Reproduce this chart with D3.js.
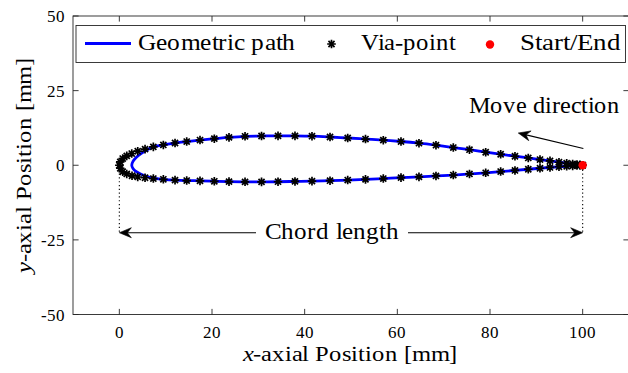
<!DOCTYPE html>
<html><head><meta charset="utf-8"><script src="https://cdn.jsdelivr.net/npm/d3@7"></script>
<style>
  @font-face { font-family: "ChartSerif"; src: local("Liberation Serif"), local("LiberationSerif-Regular"), local("LiberationSerif"); font-style: normal; }
  @font-face { font-family: "ChartSerif"; src: local("Liberation Serif Italic"), local("LiberationSerif-Italic"); font-style: italic; }
</style>
</head>
<body style="margin:0">
<svg id="s" width="628" height="373"></svg>
<script>
// Axis ticks
const xTicks = [0, 20, 40, 60, 80, 100];
const yTicks = [-50, -25, 0, 25, 50];

// Via-points, traced from the trailing edge over the upper surface to the nose,
// then back along the lower surface to the trailing edge [mm]
const viaX = [100, 99.42, 98.77, 97.84, 96.55, 94.89, 92.95, 90.79, 88.26, 85.39,
  82.30, 79.07, 75.57, 72.08, 68.34, 64.67, 60.79, 56.97, 53.13, 49.29,
  45.47, 41.58, 37.91, 34.25, 30.69, 27.13, 23.67, 20.50, 17.41, 14.54,
  12.02, 9.50, 7.34, 5.55, 3.97, 2.68, 1.60, 0.73, 0.20, 0,
  0.20, 0.73, 1.60, 2.74, 3.97, 5.55, 7.34, 9.50, 12.02, 14.54,
  17.41, 20.50, 23.67, 27.13, 30.69, 34.25, 37.91, 41.58, 45.47, 49.29,
  53.13, 56.97, 60.79, 64.67, 68.34, 72.08, 75.57, 79.07, 82.30, 85.39,
  88.26, 90.79, 92.95, 94.89, 96.55, 97.84, 98.77, 99.42, 100];
const viaY = [0, 0.17, 0.27, 0.44, 0.67, 1.01, 1.45, 1.91, 2.45, 3.02,
  3.69, 4.36, 5.20, 5.94, 6.71, 7.38, 7.95, 8.40, 8.78, 9.13,
  9.46, 9.73, 9.83, 9.85, 9.80, 9.70, 9.35, 8.90, 8.45, 7.95,
  7.45, 6.80, 6.14, 5.40, 4.70, 3.93, 3.13, 2.24, 1.10, 0,
  -1.00, -2.18, -2.92, -3.52, -3.93, -4.19, -4.46, -4.70, -4.97, -5.13,
  -5.22, -5.37, -5.47, -5.55, -5.58, -5.52, -5.42, -5.32, -5.18, -4.96,
  -4.72, -4.45, -4.15, -3.88, -3.58, -3.28, -2.92, -2.52, -2.11, -1.74,
  -1.34, -1.01, -0.74, -0.50, -0.34, -0.20, -0.10, -0.03, 0];

// Geometric path: follows the via-points but rounds the nose off inside them
const pathX = [100, 99.42, 98.77, 97.84, 96.55, 94.89, 92.95, 90.79, 88.26, 85.39,
  82.30, 79.07, 75.57, 72.08, 68.34, 64.67, 60.79, 56.97, 53.13, 49.29,
  45.47, 41.58, 37.91, 34.25, 30.69, 27.13, 23.67, 20.50, 17.41, 14.54,
  12.02, 9.50, 7.34, 5.18, 3.75, 2.95, 2.68, 2.95, 3.50, 4.47,
  6.00, 7.34, 9.50, 12.02, 14.54, 17.41, 20.50, 23.67, 27.13, 30.69,
  34.25, 37.91, 41.58, 45.47, 49.29, 53.13, 56.97, 60.79, 64.67, 68.34,
  72.08, 75.57, 79.07, 82.30, 85.39, 88.26, 90.79, 92.95, 94.89, 96.55,
  97.84, 98.77, 99.42, 100];
const pathY = [0, 0.17, 0.27, 0.44, 0.67, 1.01, 1.45, 1.91, 2.45, 3.02,
  3.69, 4.36, 5.20, 5.94, 6.71, 7.38, 7.95, 8.40, 8.78, 9.13,
  9.46, 9.73, 9.83, 9.85, 9.80, 9.70, 9.35, 8.90, 8.45, 7.95,
  7.45, 6.80, 6.14, 4.46, 2.79, 1.30, 0, -1.10, -2.00, -2.85,
  -3.80, -4.35, -4.70, -4.97, -5.13, -5.22, -5.37, -5.47, -5.55, -5.58,
  -5.52, -5.42, -5.32, -5.18, -4.96, -4.72, -4.45, -4.15, -3.88, -3.58,
  -3.28, -2.92, -2.52, -2.11, -1.74, -1.34, -1.01, -0.74, -0.50, -0.34,
  -0.20, -0.10, -0.03, 0];

// Start/End point
const startEnd = [100, 0];

// Annotations
const chordY = -22.6;           // height of the chord-length dimension line
const chordLabelX = 45.9;
const dropTop = -1.5;           // top of the dotted extension lines
const moveTail = [100.15, 5.6];
const moveHead = [86.1, 10.8];
const moveLabel = [91.7, 17.2];

const svg = d3.select("#s");
const F = '"ChartSerif", "Liberation Serif"';
const sx = d3.scaleLinear().domain([-10, 110]).range([73, 629]);
const sy = d3.scaleLinear().domain([-50, 50]).range([314.5, 16]);
const axisColor = "#262626";
const tickLen = 5.6;

// Text helper with the serif face
function label(px, py, size, str) {
  return svg.append("text")
    .attr("x", px).attr("y", py)
    .attr("font-size", size)
    .style("font-family", F)
    .text(str);
}

// Geometric path
const pathLine = d3.line()
  .x(d => sx(d[0])).y(d => sy(d[1]))
  .curve(d3.curveCatmullRom.alpha(0.5));
svg.append("path")
  .datum(pathX.map((v, i) => [v, pathY[i]]))
  .attr("d", pathLine)
  .attr("fill", "none")
  .attr("stroke", "#0000ff")
  .attr("stroke-width", 2.8)
  .attr("stroke-linejoin", "round");

// Asterisk marker
function asterisk(r) {
  const q = r * Math.SQRT1_2;
  return `M${-r},0L${r},0M0,${-r}L0,${r}M${-q},${-q}L${q},${q}M${-q},${q}L${q},${-q}`;
}
svg.append("g").selectAll("path")
  .data(viaX.map((v, i) => [v, viaY[i]]))
  .join("path")
  .attr("transform", d => `translate(${sx(d[0])},${sy(d[1])})`)
  .attr("d", asterisk(4.3))
  .attr("stroke", "#000")
  .attr("stroke-width", 1.7)
  .attr("fill", "none");

// Start/End dot
svg.append("circle")
  .attr("cx", sx(startEnd[0])).attr("cy", sy(startEnd[1]))
  .attr("r", 4.2).attr("fill", "#ff0000");

// Dotted extension lines at the leading and trailing edge
[0, 100].forEach(xv => {
  svg.append("line")
    .attr("x1", sx(xv)).attr("x2", sx(xv))
    .attr("y1", sy(dropTop)).attr("y2", sy(chordY))
    .attr("stroke", "#000").attr("stroke-width", 1.1)
    .attr("stroke-dasharray", "1.2,2.6");
});

// Arrowhead drawn at a tip, pointing along angle (radians)
function arrowHead(tx, ty, ang) {
  const L = 12, Wd = 10, N = 8;
  const pts = [[0, 0], [-L, Wd / 2], [-N, 0], [-L, -Wd / 2]];
  const c = Math.cos(ang), sn = Math.sin(ang);
  const p = pts.map(([a, b]) => [tx + a * c - b * sn, ty + a * sn + b * c]);
  svg.append("path")
    .attr("d", "M" + p.map(q => q.join(",")).join("L") + "Z")
    .attr("fill", "#000").attr("stroke", "#000").attr("stroke-width", 0.6);
}

// Chord length dimension
const chordPx = sy(chordY);
svg.append("line")
  .attr("x1", sx(0) + 4).attr("x2", sx(100) - 4)
  .attr("y1", chordPx).attr("y2", chordPx)
  .attr("stroke", "#000").attr("stroke-width", 1.1);
arrowHead(sx(0), chordPx, Math.PI);
arrowHead(sx(100), chordPx, 0);
svg.append("rect")
  .attr("x", sx(chordLabelX) - 76).attr("y", chordPx - 14)
  .attr("width", 152).attr("height", 26)
  .attr("fill", "#fff");
label(sx(chordLabelX), chordPx + 6.5, 22.5, "Chord length")
  .attr("text-anchor", "middle")
  .attr("textLength", 134).attr("lengthAdjust", "spacingAndGlyphs");

// Move direction arrow
const t0 = [sx(moveTail[0]), sy(moveTail[1])];
const t1 = [sx(moveHead[0]), sy(moveHead[1])];
const ang = Math.atan2(t1[1] - t0[1], t1[0] - t0[0]);
svg.append("line")
  .attr("x1", t0[0]).attr("y1", t0[1])
  .attr("x2", t1[0] - 6 * Math.cos(ang)).attr("y2", t1[1] - 6 * Math.sin(ang))
  .attr("stroke", "#000").attr("stroke-width", 1.1);
arrowHead(t1[0], t1[1], ang);
label(sx(moveLabel[0]), 113, 22.5, "Move direction")
  .attr("text-anchor", "middle")
  .attr("textLength", 150).attr("lengthAdjust", "spacingAndGlyphs");

// Axes box with inward ticks on all four sides
const ax = svg.append("g").attr("stroke", axisColor).attr("stroke-width", 0.9);
const x0 = sx(-10), x1 = sx(110), y0 = sy(-50), y1 = sy(50);
ax.append("rect")
  .attr("x", x0).attr("y", y1).attr("width", x1 - x0).attr("height", y0 - y1)
  .attr("fill", "none");
xTicks.forEach(t => {
  ax.append("line").attr("x1", sx(t)).attr("x2", sx(t)).attr("y1", y0).attr("y2", y0 - tickLen);
  ax.append("line").attr("x1", sx(t)).attr("x2", sx(t)).attr("y1", y1).attr("y2", y1 + tickLen);
});
yTicks.forEach(t => {
  ax.append("line").attr("x1", x0).attr("x2", x0 + tickLen).attr("y1", sy(t)).attr("y2", sy(t));
  ax.append("line").attr("x1", x1).attr("x2", x1 - tickLen).attr("y1", sy(t)).attr("y2", sy(t));
});

// Tick labels
xTicks.forEach(d => {
  label(sx(d), 338, 17, String(d)).attr("text-anchor", "middle");
});
yTicks.forEach(d => {
  label(65, sy(d) + 6, 17, d < 0 ? "-" + Math.abs(d) : String(d)).attr("text-anchor", "end");
});

// Axis titles
const xl = label(350, 361, 21, null)
  .attr("text-anchor", "middle")
  .attr("textLength", 215).attr("lengthAdjust", "spacingAndGlyphs");
xl.append("tspan").attr("font-style", "italic").text("x");
xl.append("tspan").text("-axial Position [mm]");

const yl = label(0, 0, 21, null)
  .attr("transform", `translate(31,${(y0 + y1) / 2}) rotate(-90)`)
  .attr("text-anchor", "middle")
  .attr("textLength", 215).attr("lengthAdjust", "spacingAndGlyphs");
yl.append("tspan").attr("font-style", "italic").text("y");
yl.append("tspan").text("-axial Position [mm]");

// Legend
svg.append("rect")
  .attr("x", 76).attr("y", 25.5).attr("width", 549.5).attr("height", 37)
  .attr("fill", "#fff").attr("stroke", axisColor).attr("stroke-width", 0.9);
svg.append("line")
  .attr("x1", 85).attr("x2", 131).attr("y1", 43.5).attr("y2", 43.5)
  .attr("stroke", "#0000ff").attr("stroke-width", 2.8);
label(137.5, 50, 22.5, "Geometric path")
  .attr("textLength", 158).attr("lengthAdjust", "spacingAndGlyphs");
svg.append("path")
  .attr("transform", "translate(331.5,44)")
  .attr("d", asterisk(4.3))
  .attr("stroke", "#000").attr("stroke-width", 1.7).attr("fill", "none");
label(360.5, 50, 22.5, "Via-point")
  .attr("textLength", 94.5).attr("lengthAdjust", "spacingAndGlyphs");
svg.append("circle").attr("cx", 490).attr("cy", 44.5).attr("r", 4.2).attr("fill", "#ff0000");
label(519.5, 50, 22.5, "Start/End")
  .attr("textLength", 102).attr("lengthAdjust", "spacingAndGlyphs");
</script></body></html>
